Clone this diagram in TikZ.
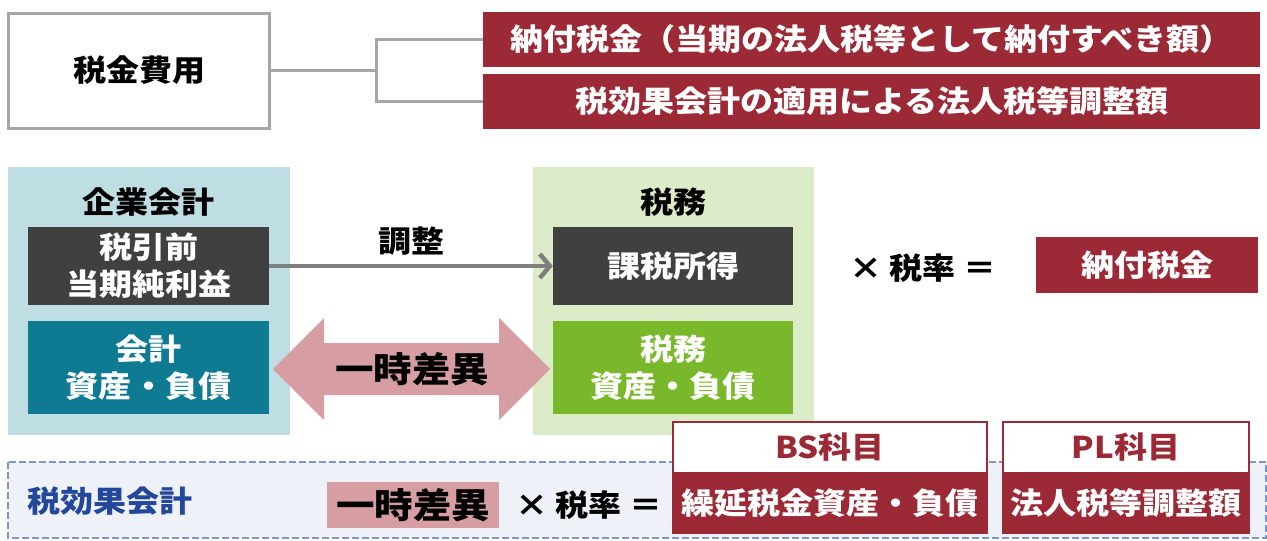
\documentclass[tikz,border=0pt]{standalone}
\usepackage{fontspec}
\setmainfont{Noto Sans CJK JP}[FakeStretch=1.1]
\usetikzlibrary{arrows.meta}
\definecolor{cgray}{HTML}{A6A6A6}
\definecolor{cred}{HTML}{9B2A36}
\definecolor{cblue}{HTML}{BEDEE4}
\definecolor{cdark}{HTML}{404040}
\definecolor{cteal}{HTML}{0E7B93}
\definecolor{clgreen}{HTML}{DCEBC8}
\definecolor{cgreen}{HTML}{7AB82B}
\definecolor{cpink}{HTML}{D69EA3}
\definecolor{carrow}{HTML}{7F7F7F}
\definecolor{cband}{HTML}{EEF1F7}
\definecolor{cbandline}{HTML}{7F96C2}
\definecolor{ctextblue}{HTML}{23479A}
\tikzset{
  txt/.style={font=\bfseries\fontsize{30}{37}\selectfont, inner sep=0pt, align=center},
  bigtxt/.style={font=\bfseries\fontsize{35}{40}\selectfont, inner sep=0pt, align=center},
  costbox/.style={txt, draw=cgray, line width=3pt, fill=white},
  redbox/.style={txt, fill=cred, text=white},
  panel/.style={inner sep=0pt},
  darkbox/.style={txt, fill=cdark, text=white},
  headbox/.style={txt, draw=cred, line width=2.5pt, fill=white, text=cred},
  link/.style={draw=cgray, line width=3pt},
  adjarrow/.style={draw=carrow, line width=4pt, -{Straight Barb[length=10pt,width=24pt,line width=4.5pt]}},
}
\begin{document}
\begin{tikzpicture}[x=1pt,y=-1pt]
\useasboundingbox (0,0) rectangle (1267,541);
% top part
\node[costbox, minimum width=261pt, minimum height=115pt] (cost) at (139,70.5) {税金費用};
\node[redbox, minimum width=777pt, minimum height=55pt] (pay) at (871.5,39) {納付税金（当期の法人税等として納付すべき額）};
\node[redbox, minimum width=777pt, minimum height=55pt] (adj) at (871.5,101) {税効果会計の適用による法人税等調整額};
\coordinate (j) at (376,70.5);
\draw[link] (cost.east) -- (j);
\draw[link] (j) |- (pay.west);
\draw[link] (j) |- (adj.west);
% panels
\node[panel, fill=cblue, minimum width=282pt, minimum height=268pt] (corp) at (149,301) {};
\node[panel, fill=clgreen, minimum width=281pt, minimum height=268pt] (taxp) at (673.5,301) {};
\node[txt] (corpl) at (148,202) {企業会計};
\node[txt] (taxl) at (673,202) {税務};
\node[darkbox, minimum width=241pt, minimum height=78pt] (pre) at (148.5,266) {税引前\\当期純利益};
\node[darkbox, minimum width=240pt, minimum height=78pt] (inc) at (673,266) {課税所得};
\node[txt, fill=cteal, text=white, minimum width=241pt, minimum height=93pt] (cal) at (148.5,367.5) {会計\\資産・負債};
\node[txt, fill=cgreen, text=white, minimum width=240pt, minimum height=93pt] (tal) at (673,367.5) {税務\\資産・負債};
\draw[adjarrow] (pre.east) -- (inc.west) node[txt, midway, above=9pt] (adjl) {調整};
% double arrow
\fill[cpink] (273,369) -- (324,318) -- (324,343) -- (499,343) -- (499,318) -- (550,369)
  -- (499,420) -- (499,395) -- (324,395) -- (324,420) -- cycle;
\node[bigtxt] (diff) at (412,369) {一時差異};
% multiply
\node[txt] (mul1) at (923,268) {× 税率 ＝};
\node[redbox, minimum width=222pt, minimum height=56pt] (payb) at (1147,265) {納付税金};
% band
\draw[cbandline, fill=cband, line width=2.5pt, dash pattern=on 7pt off 3pt] (8,462) rectangle (1266,538);
\node[txt, text=ctextblue] (tel) at (110,501) {税効果会計};
\node[bigtxt, fill=cpink, minimum width=172pt, minimum height=46pt] (diff2) at (413,505) {一時差異};
\node[txt] (mul2) at (589,505) {× 税率 ＝};
\node[headbox, minimum width=314pt, minimum height=51pt] (bsh) at (830,447.5) {BS科目};
\node[redbox, minimum width=316.5pt, minimum height=61pt] (bsb) at (830,503.5) {繰延税金資産・負債};
\node[headbox, minimum width=246pt, minimum height=51pt] (plh) at (1126,447.5) {PL科目};
\node[redbox, minimum width=248.5pt, minimum height=61pt] (plb) at (1126,503.5) {法人税等調整額};
\end{tikzpicture}
\end{document}
